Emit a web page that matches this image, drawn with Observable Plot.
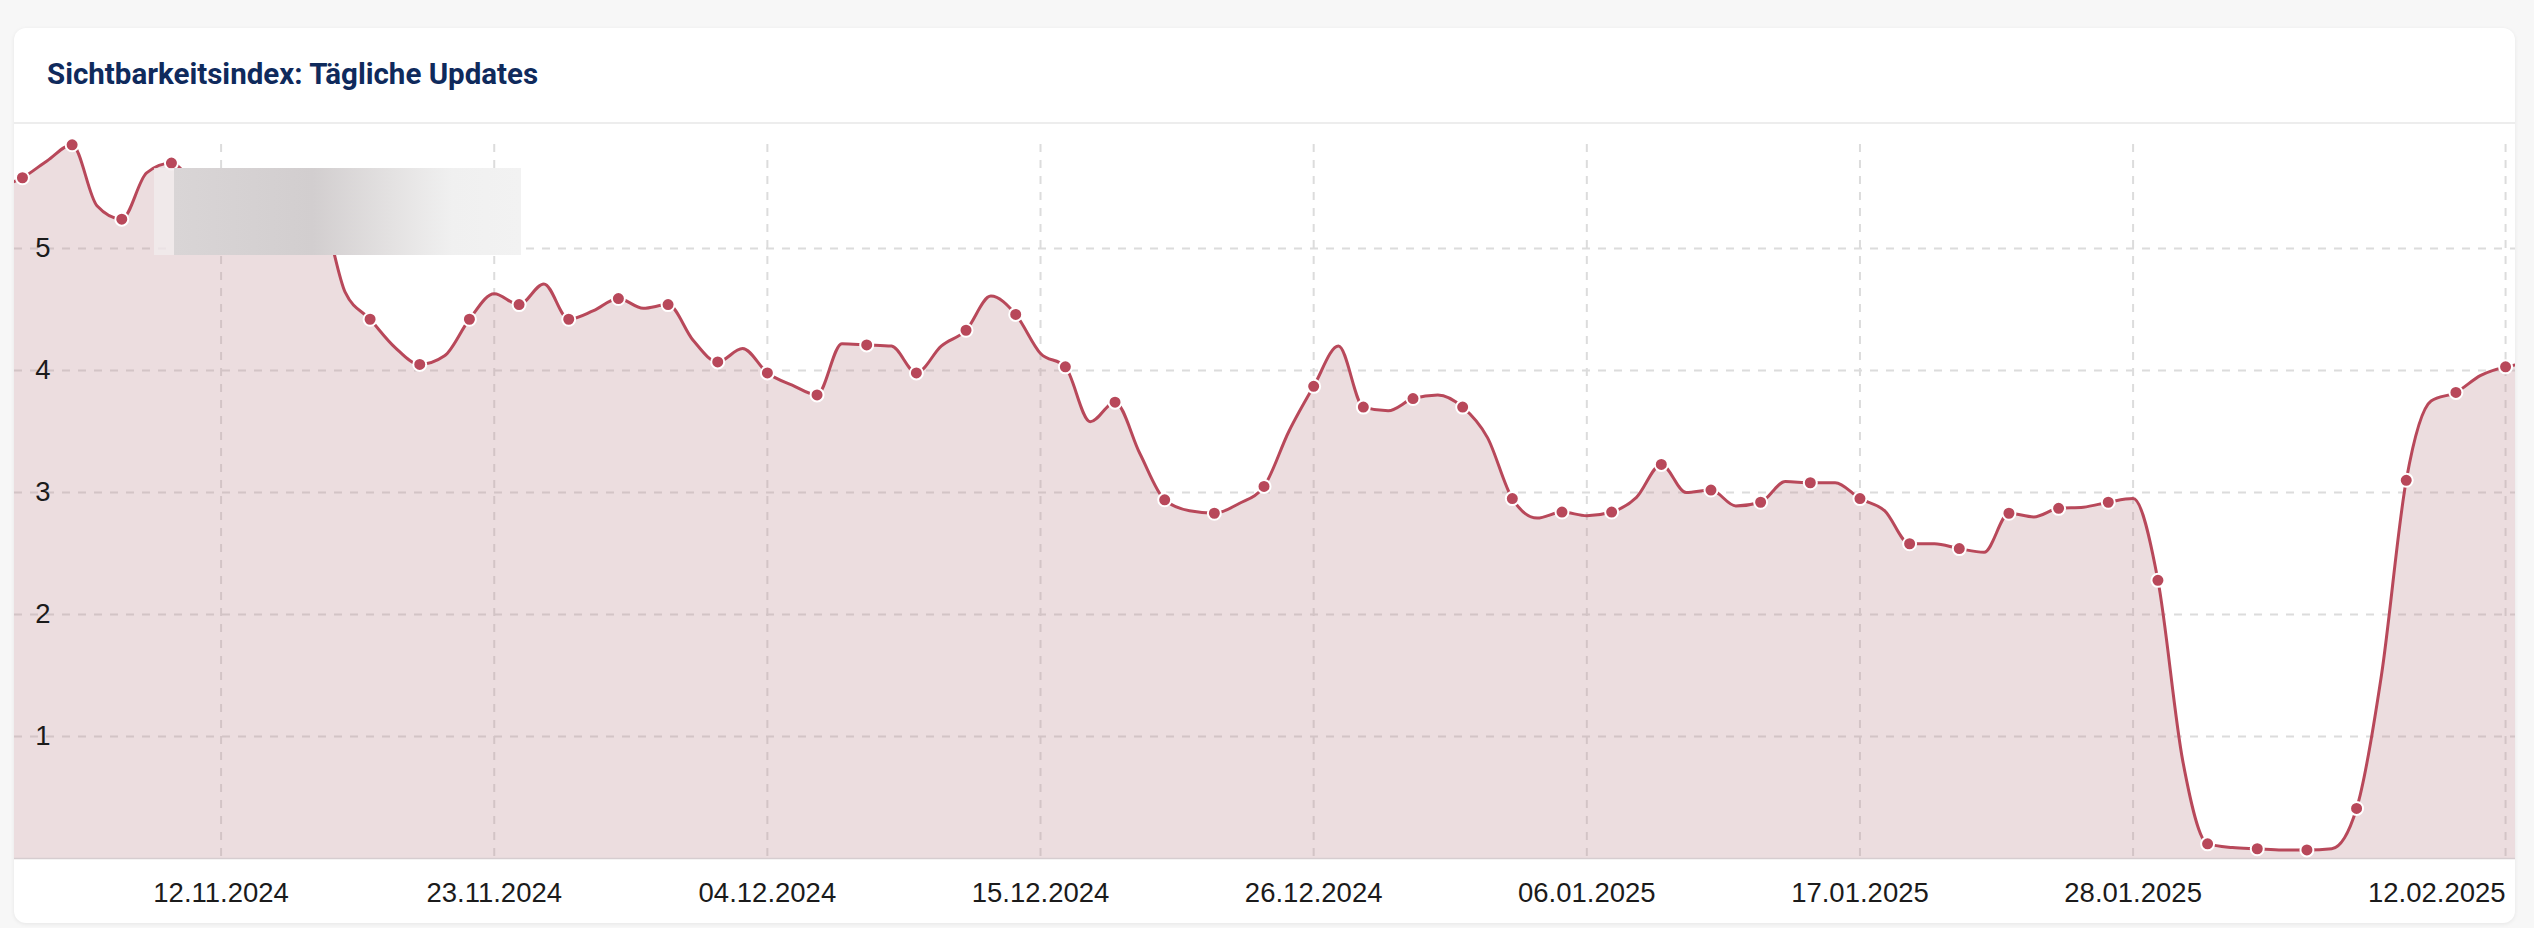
<!DOCTYPE html>
<html>
<head>
<meta charset="utf-8">
<script src="https://cdn.jsdelivr.net/npm/d3@7"></script>
<script src="https://cdn.jsdelivr.net/npm/@observablehq/plot@0.6"></script>
<style>
  html, body { margin: 0; padding: 0; background: #f7f7f7; width: 2534px; height: 928px; overflow: hidden; }
  #card { position: absolute; left: 14px; top: 28px; width: 2501px; height: 895px; background: #fff;
          border-radius: 12px; box-shadow: 0 1px 4px rgba(0,0,0,0.07); overflow: hidden; }
  #head { height: 94px; border-bottom: 2px solid #ededed; position: relative; }
  #title { position: absolute; left: 33px; top: 32px; margin: 0; font: 700 29.5px/29px Roboto, sans-serif; color: #0f2a5c; white-space: nowrap; }
  #chart { position: relative; }
  #chart svg { display: block; }
  .mask1 { position: absolute; left: 140px; top: 44px; width: 20px; height: 87px; background: rgba(242,236,237,0.75); }
  .mask2 { position: absolute; left: 160px; top: 44px; width: 347px; height: 87px;
           background: linear-gradient(90deg, #d9d5d6 0%, #d2cecf 40%, #e3e1e1 62%, #f0f0f0 80%, #f2f2f2 100%); }
</style>
</head>
<body>
<div id="card">
  <div id="head"><h2 id="title">Sichtbarkeitsindex: Tägliche Updates</h2></div>
  <div id="chart"></div>
</div>
<script>
// daily values, starting 03.11.2024 (one value per day)
const startDay = "2024-11-03";
const values = [
  5.50,                                           // 03.11
  5.58, 5.72, 5.85, 5.35, 5.24, 5.62, 5.70,       // 04.11 - 10.11
  5.52, 5.45, 5.40, 5.35, 5.32, 5.28, 4.64,       // 11.11 - 17.11
  4.42, 4.19, 4.05, 4.12, 4.42, 4.63, 4.54,       // 18.11 - 24.11
  4.71, 4.42, 4.49, 4.59, 4.51, 4.54, 4.25,       // 25.11 - 01.12
  4.07, 4.18, 3.98, 3.88, 3.80, 4.22, 4.21,       // 02.12 - 08.12
  4.20, 3.98, 4.20, 4.33, 4.61, 4.46, 4.14,       // 09.12 - 15.12
  4.03, 3.58, 3.74, 3.32, 2.94, 2.85, 2.83,       // 16.12 - 22.12
  2.91, 3.05, 3.50, 3.87, 4.20, 3.70, 3.67,       // 23.12 - 29.12
  3.77, 3.80, 3.70, 3.45, 2.95, 2.79, 2.84,       // 30.12 - 05.01
  2.81, 2.84, 2.96, 3.23, 3.00, 3.02, 2.89,       // 06.01 - 12.01
  2.92, 3.09, 3.08, 3.08, 2.95, 2.85, 2.58,       // 13.01 - 19.01
  2.58, 2.54, 2.51, 2.83, 2.80, 2.87, 2.88,       // 20.01 - 26.01
  2.92, 2.95, 2.28, 0.80, 0.12, 0.09, 0.08,       // 27.01 - 02.02
  0.07, 0.07, 0.08, 0.41, 1.50, 3.10, 3.75,       // 03.02 - 09.02
  3.82, 3.96, 4.03, 4.06                          // 10.02 - 13.02
];
const xTicks = ["2024-11-12", "2024-11-23", "2024-12-04", "2024-12-15", "2024-12-26", "2025-01-06", "2025-01-17", "2025-01-28"];
const xLastTick = ["2025-02-12"];
const yTicks = [1, 2, 3, 4, 5];
const xDomain = ["2024-11-03T16:19:00Z", "2025-02-12T09:36:00Z"];

const DAY = 864e5;
const t0 = new Date(startDay + "T00:00:00Z").getTime();
const data = values.map((v, i) => ({date: new Date(t0 + i * DAY), value: v}));
const markers = data.filter((d, i) => i % 2 === 1);
const toDate = s => new Date(s + "T00:00:00Z");
const fmt = d3.utcFormat("%d.%m.%Y");
const allTicks = xTicks.concat(xLastTick).map(toDate);

const lineColor = "#b8485a";
const gridStyle = {stroke: "#dcdcdc", strokeWidth: 2, strokeDasharray: "8,8"};

const chart = Plot.plot({
  width: 2501,
  height: 799,
  marginTop: 2,
  marginBottom: 65,
  marginLeft: 0,
  marginRight: 0,
  x: {type: "utc", domain: xDomain.map(s => new Date(s)), axis: null},
  y: {domain: [0, 6], axis: null},
  style: {fontFamily: "'Liberation Sans', Arial, Helvetica, sans-serif", fontSize: "27.5px", color: "#1b1b1b", background: "transparent", overflow: "visible"},
  marks: [
    Plot.ruleY(yTicks, gridStyle),
    Plot.ruleX(allTicks, {...gridStyle, insetTop: 18}),
    Plot.areaY(data, {x: "date", y: "value", curve: "monotone-x", fill: "#c08e94", fillOpacity: 0.3, clip: true}),
    Plot.ruleY([0], {stroke: "#d6cdd0", strokeWidth: 1.5}),
    Plot.lineY(data, {x: "date", y: "value", curve: "monotone-x", stroke: lineColor, strokeWidth: 3, clip: true}),
    Plot.dot(markers, {x: "date", y: "value", r: 6.5, fill: lineColor, stroke: "#fff", strokeWidth: 2}),
    Plot.text(yTicks, {y: d => d, frameAnchor: "left", textAnchor: "end", dx: 36, fill: "#1b1b1b"}),
    Plot.text(xTicks.map(toDate), {x: d => d, text: d => fmt(d), frameAnchor: "bottom", lineAnchor: "middle", dy: 35, fill: "#1b1b1b"}),
    Plot.text(xLastTick.map(toDate), {x: d => d, text: d => fmt(d), frameAnchor: "bottom", lineAnchor: "middle", textAnchor: "end", dy: 35, fill: "#1b1b1b"})
  ]
});
const host = document.getElementById("chart");
host.appendChild(chart);
const m1 = document.createElement("div"); m1.className = "mask1"; host.appendChild(m1);
const m2 = document.createElement("div"); m2.className = "mask2"; host.appendChild(m2);
</script>
</body>
</html>
